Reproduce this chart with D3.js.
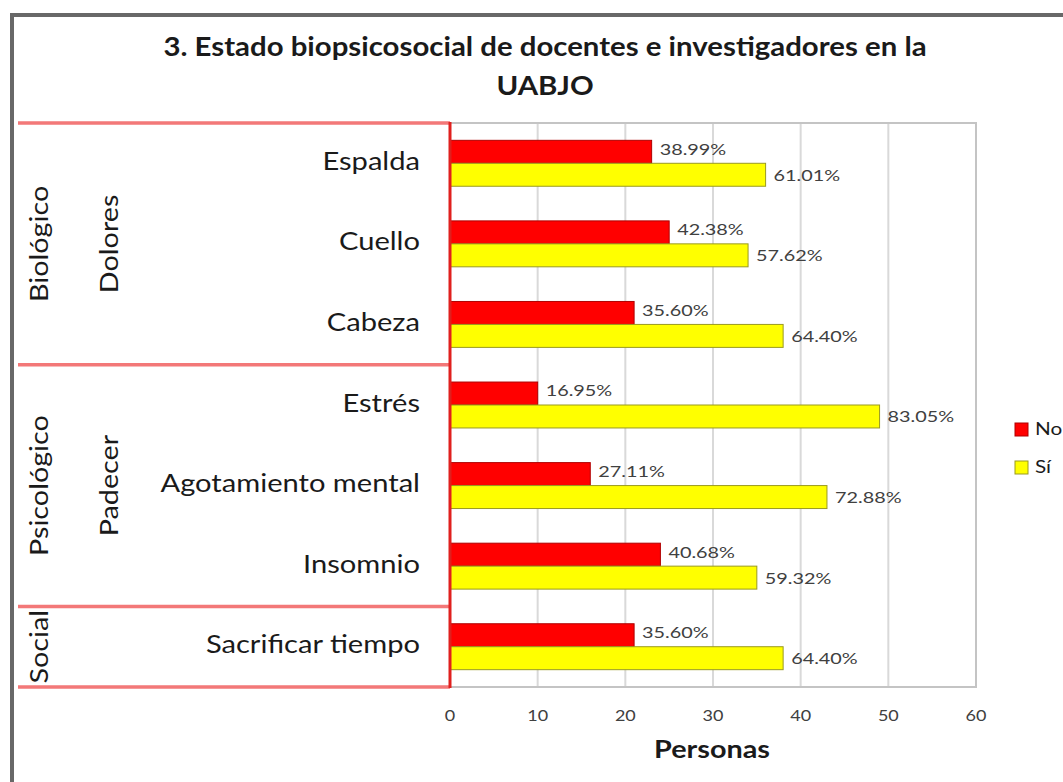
<!DOCTYPE html>
<html><head><meta charset="utf-8">
<script src="https://cdn.jsdelivr.net/npm/d3@7"></script>
<style>
html,body{margin:0;padding:0;background:#fff;}
svg{display:block;font-family:Lato,"Open Sans",sans-serif;}
</style></head>
<body><svg id="c" width="1063" height="782"></svg>
<script>
const title = ["3. Estado biopsicosocial de docentes e investigadores en la", "UABJO"];
const categories = ["Espalda","Cuello","Cabeza","Estrés","Agotamiento mental","Insomnio","Sacrificar tiempo"];
const seriesNames = ["No","Sí"];
const noValues = [23,25,21,10,16,24,21];
const siValues = [36,34,38,49,43,35,38];
const noLabels = ["38.99%","42.38%","35.60%","16.95%","27.11%","40.68%","35.60%"];
const siLabels = ["61.01%","57.62%","64.40%","83.05%","72.88%","59.32%","64.40%"];
const groups = [
  {outer:"Biológico", inner:"Dolores", from:0, to:2},
  {outer:"Psicológico", inner:"Padecer", from:3, to:5},
  {outer:"Social", inner:"", from:6, to:6}
];
const xTicks = [0,10,20,30,40,50,60];
const xTitle = "Personas";
const colors = {"No":"#ff0000","Sí":"#ffff00"};
const strokes = {"No":"#b00000","Sí":"#9a9a20"};

const svg = d3.select("#c");
const L = 450, R = 976, T = 123, B = 687;

// helper: text with horizontal stretch
function txt(parent, x, y, s, o) {
  o = o || {};
  const sx = o.sx || 1, rot = o.rot || 0;
  const t = parent.append("text")
    .attr("transform", `translate(${x},${y})` + (rot ? ` rotate(${rot})` : "") + ` scale(${sx},1)`)
    .attr("text-anchor", o.anchor || "start")
    .attr("dominant-baseline", o.baseline || "middle")
    .attr("font-size", o.size || 15)
    .attr("fill", o.fill || "#1a1a1a")
    .text(s);
  if (o.bold) t.attr("font-weight", "bold");
  return t;
}

// outer border
svg.append("path").attr("d","M12,790 L12,15 L1070,15").attr("fill","none").attr("stroke","#686868").attr("stroke-width",4);

// title
txt(svg, 545, 49, title[0], {anchor:"middle", size:26, sx:1.13, bold:true});
txt(svg, 545, 88, title[1], {anchor:"middle", size:26, sx:1.13, bold:true});

const x = d3.scaleLinear().domain([0,60]).range([L,R]);
const y0 = d3.scaleBand().domain(categories).range([T,B]).paddingInner(0.43).paddingOuter(0.215);
const y1 = d3.scaleBand().domain(seriesNames).range([0,y0.bandwidth()]);

// gridlines
svg.append("g").selectAll("line").data(xTicks.slice(1)).join("line")
  .attr("x1",d=>x(d)).attr("x2",d=>x(d)).attr("y1",T).attr("y2",B)
  .attr("stroke","#d9d9d9").attr("stroke-width",2);
// plot border top/right/bottom
svg.append("path").attr("d",`M${L},${T} L${R},${T} L${R},${B} L${L},${B}`)
  .attr("fill","none").attr("stroke","#c4c4c4").attr("stroke-width",2);

// bars
const data = categories.map((c,i)=>({c, vals:[{s:"No",v:noValues[i],lab:noLabels[i]},{s:"Sí",v:siValues[i],lab:siLabels[i]}]}));
const g = svg.append("g").selectAll("g").data(data).join("g").attr("transform",d=>`translate(0,${y0(d.c)})`);
g.selectAll("rect").data(d=>d.vals).join("rect")
  .attr("x",x(0)).attr("y",d=>y1(d.s)).attr("width",d=>x(d.v)-x(0)).attr("height",y1.bandwidth())
  .attr("fill",d=>colors[d.s]).attr("stroke",d=>strokes[d.s]).attr("stroke-width",1);
g.each(function(d){
  const gg = d3.select(this);
  d.vals.forEach(v=>{
    txt(gg, x(v.v)+8, y1(v.s)+y1.bandwidth()/2+(v.s==="No"?-1:2), v.lab, {size:15.5, sx:1.28, fill:"#404040"});
  });
});

// category axis box (pink lines)
const step = y0.step();
const sepYs = [T].concat(groups.map(gr=>T + (gr.to+1)*step));
svg.append("g").selectAll("line").data(sepYs).join("line")
  .attr("x1",18).attr("x2",L).attr("y1",d=>d).attr("y2",d=>d)
  .attr("stroke","#f26a6a").attr("stroke-width",3.5).attr("opacity",0.9);
svg.append("line").attr("x1",L).attr("x2",L).attr("y1",T-1).attr("y2",B+1)
  .attr("stroke","#e0201e").attr("stroke-width",3);

// category labels
categories.forEach(c=>{
  txt(svg, 420, y0(c)+y0.bandwidth()/2, c, {anchor:"end", size:26, sx:1.12});
});

// group labels (rotated)
groups.forEach(gr=>{
  const cy = T + ((gr.from + gr.to + 1)/2)*step;
  txt(svg, 42, cy, gr.outer, {anchor:"middle", size:25, sx:1.15, rot:-90});
  if (gr.inner) txt(svg, 112, cy, gr.inner, {anchor:"middle", size:25, sx:1.15, rot:-90});
});

// x axis tick labels
xTicks.forEach(t=>{
  txt(svg, x(t), 717, String(t), {anchor:"middle", size:15, sx:1.2, fill:"#404040"});
});
txt(svg, 712, 752, xTitle, {anchor:"middle", size:24, sx:1.2, bold:true});

// legend
seriesNames.forEach((s,i)=>{
  const lg = svg.append("g").attr("transform",`translate(1015,${423+i*38})`);
  lg.append("rect").attr("width",13).attr("height",13).attr("fill",colors[s]).attr("stroke",strokes[s]);
  txt(lg, 20, 7, s, {size:18, sx:1.15});
});
</script></body></html>
